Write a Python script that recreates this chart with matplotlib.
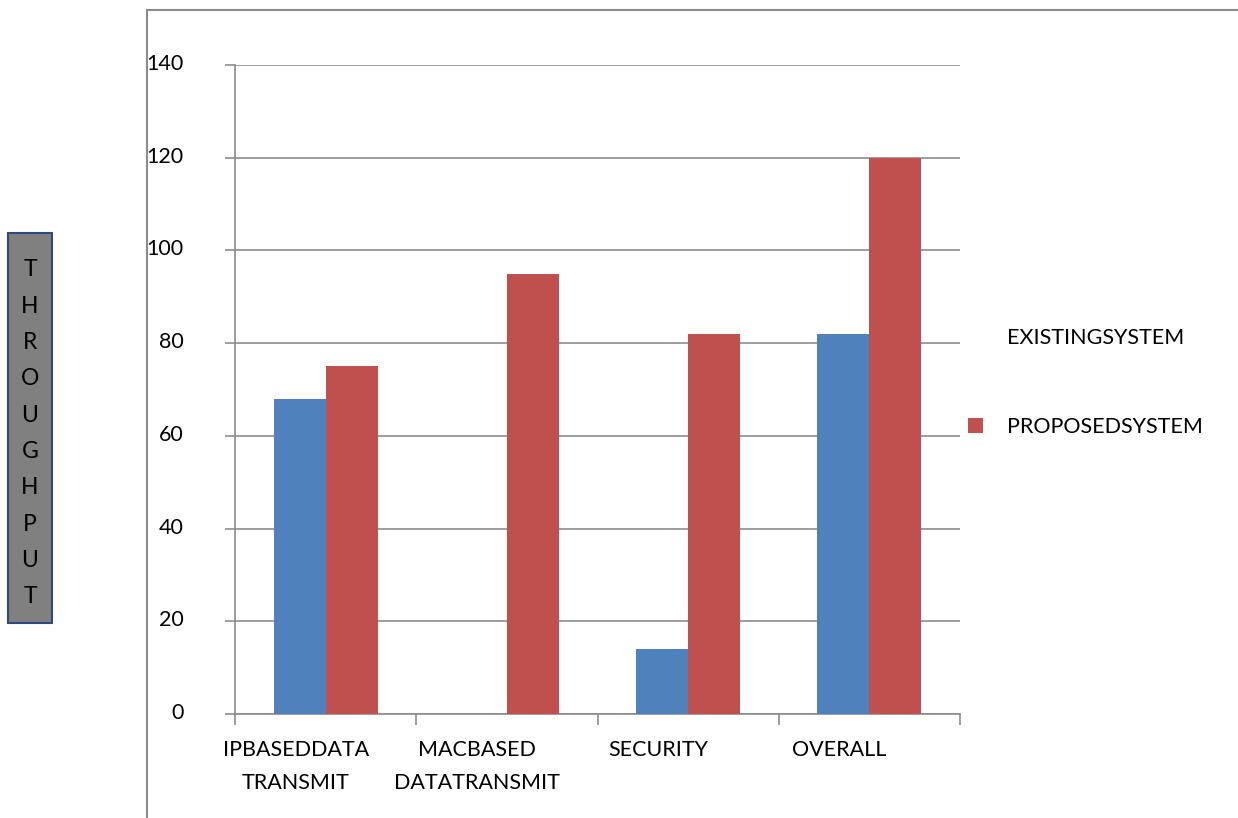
import matplotlib.pyplot as plt
from matplotlib.patches import Rectangle
from matplotlib.lines import Line2D
from matplotlib.transforms import ScaledTranslation
import numpy as np

plt.rcParams["font.family"] = ["Lato", "DejaVu Sans"]

categories = ["IPBASEDDATA\nTRANSMIT", "MACBASED\nDATATRANSMIT", "SECURITY", "OVERALL"]
existing = [68, 0, 14, 82]
proposed = [75, 95, 82, 120]
yticks = [0, 20, 40, 60, 80, 100, 120, 140]
ylabel_text = "THROUGHPUT"

GRID = '#8c8c8c'
FS = 15.5

fig = plt.figure(figsize=(12.38, 8.18), dpi=100)
ax = fig.add_axes([235/1238, 1 - 714/818, (960 - 235)/1238, (714 - 65)/818])

x = np.arange(len(categories))
w = 0.287
ax.bar(x - w/2, existing, w, color='#4F81BD', label='EXISTINGSYSTEM', zorder=3)
ax.bar(x + w/2, proposed, w, color='#C0504D', label='PROPOSEDSYSTEM', zorder=3)

ax.set_xlim(-0.5, len(categories) - 0.5)
ax.set_ylim(0, 140)

ax.set_yticks(yticks)
ax.set_yticklabels([str(v) for v in yticks], fontsize=FS)
ax.tick_params(axis='y', length=7, color=GRID, width=1.2, pad=30)
shift = ScaledTranslation(0, 3/100, fig.dpi_scale_trans)
for lbl in ax.get_yticklabels():
    lbl.set_transform(lbl.get_transform() + shift)
ax.grid(axis='y', color=GRID, linewidth=1.2, zorder=0)

# category boundary ticks + shifted labels
ax.set_xticks(np.arange(len(categories) + 1) - 0.5)
ax.set_xticklabels([])
ax.tick_params(axis='x', which='major', length=8, color=GRID, width=1.2)
ax.set_xticks(x - 0.165, minor=True)
ax.set_xticklabels(categories, minor=True, fontsize=FS, linespacing=1.8)
ax.tick_params(axis='x', which='minor', length=0, pad=19)

for s in ['top', 'right']:
    ax.spines[s].set_visible(False)
for s in ['left', 'bottom']:
    ax.spines[s].set_color(GRID)
    ax.spines[s].set_linewidth(1.2)

# legend (existing marker not visible in the original)
h, l = ax.get_legend_handles_labels()
h[0] = Rectangle((0, 0), 1, 1, color='none')
leg = fig.legend(h, l, loc='upper left', bbox_to_anchor=(949/1238, 1 - 309/818),
                 frameon=False, fontsize=FS, labelspacing=3.2, handlelength=0.7,
                 handleheight=0.7, handletextpad=1.1)

# outer frame lines
fig.add_artist(Line2D([147/1238, 147/1238], [0, 1 - 10/818], color=GRID, linewidth=1.5))
fig.add_artist(Line2D([147/1238, 1], [1 - 10/818, 1 - 10/818], color=GRID, linewidth=1.5))

# y label box
fig.add_artist(Rectangle((8/1238, 1 - 623/818), 44/1238, 390/818, transform=fig.transFigure,
                         facecolor='#808080', edgecolor='#2c4a7c', linewidth=1.5))
for i, ch in enumerate(ylabel_text):
    fig.text(30/1238, 1 - (270 + i*36.3)/818, ch, ha='center', va='center', fontsize=16.5)

fig.savefig("out.png", dpi=100)
